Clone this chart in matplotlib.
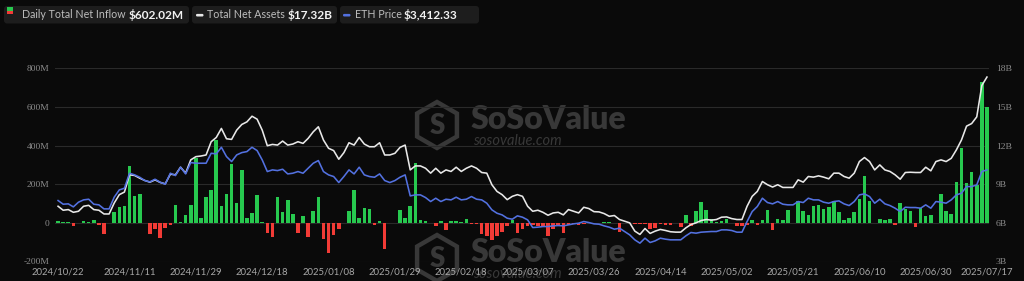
import numpy as np
import matplotlib
matplotlib.use("Agg")
import matplotlib.pyplot as plt
from matplotlib.patches import FancyBboxPatch, RegularPolygon, Rectangle
from matplotlib.transforms import IdentityTransform

# ---------------- data ----------------
inflow_m = [
    12, 2, 2, -17, 1, 8, 5, 13, -9, -60,
    0, 55, 80, 89, 295, 137, 149, -3, -57, -34,
    -77, -29, -9, 91, 2, 43, 91, 334, 26, 134,
    168, 428, 86, 151, 305, 103, 274, 26, 51, 146,
    2, -55, -72, 134, 55, 117, 48, -51, 38, -74,
    60, 132, -82, -154, -65, -34, 0, 63, 168, 26,
    77, 72, -10, 10, -134, 0, -3, 69, 27, 86,
    309, 17, 10, 0, -17, 8, -38, 10, 8, 7,
    20, -7, -7, -60, -69, -89, -69, -48, -17, 17,
    -55, -30, -15, -10, -15, -17, -68, -34, -15, -50,
    -10, -8, -10, -5, -3, -2, 0, 5, 4, -3,
    -48, -2, -3, -5, -8, -7, -34, -26, -7, -9,
    -9, 0, -22, 41, -17, 63, 106, 65, 20, 2,
    8, 22, 0, -15, -17, -12, 17, -12, 14, 65,
    -38, 22, 14, 65, 0, 115, 60, 41, 86, 93,
    72, 81, 111, 57, 14, 26, 55, 125, 243, 113,
    -2, 20, 14, 20, -9, 103, 72, 60, -22, 77,
    34, 43, -2, 149, 63, 48, 213, 386, 206, 261,
    195, 727, 602.02,
]

net_assets_b = [
    7.29, 6.98, 7.03, 6.82, 6.90, 7.29, 7.36, 7.03, 6.98, 6.69,
    6.69, 7.54, 8.19, 8.39, 9.73, 9.68, 9.47, 9.29, 9.16, 9.34,
    9.14, 9.03, 9.78, 9.73, 10.32, 9.86, 10.89, 11.14, 11.19, 11.27,
    12.30, 12.63, 13.33, 12.53, 12.48, 13.20, 13.64, 13.84, 14.28, 14.05,
    13.20, 11.99, 12.09, 12.04, 12.35, 12.04, 12.12, 12.30, 12.17, 12.56,
    13.07, 13.46, 12.43, 11.79, 11.61, 10.94, 11.45, 12.22, 12.04, 12.63,
    12.12, 11.91, 11.91, 12.22, 11.27, 11.27, 11.40, 11.86, 12.04, 10.11,
    10.42, 10.42, 10.24, 9.86, 10.24, 9.86, 10.11, 9.99, 10.32, 9.99,
    10.24, 10.42, 10.24, 9.91, 9.86, 8.96, 8.44, 8.19, 7.80, 8.06,
    8.19, 8.06, 7.29, 6.90, 6.98, 6.82, 6.59, 6.77, 6.82, 6.62,
    7.03, 6.90, 6.77, 7.21, 7.11, 6.87, 6.85, 6.72, 6.51, 6.57,
    6.26, 6.13, 6.00, 5.36, 5.10, 5.56, 5.18, 5.36, 5.49, 5.41,
    5.31, 5.28, 5.28, 5.61, 5.87, 6.00, 6.18, 6.26, 6.21, 6.26,
    6.44, 6.46, 6.33, 6.26, 6.26, 7.29, 8.06, 8.44, 9.21, 8.96,
    8.78, 8.96, 8.75, 8.75, 8.75, 9.34, 9.16, 9.60, 9.55, 9.65,
    9.55, 9.42, 9.86, 9.86, 9.60, 9.47, 9.86, 10.76, 11.07, 10.76,
    10.11, 10.50, 10.11, 9.99, 9.73, 9.39, 9.91, 9.93, 9.91, 9.91,
    10.32, 10.04, 10.76, 10.89, 10.76, 11.01, 11.66, 12.43, 13.51, 13.71,
    14.23, 16.67, 17.32,
]

eth_price = [
    2620, 2525, 2534, 2456, 2577, 2637, 2654, 2525, 2508, 2404,
    2404, 2706, 2895, 2938, 3326, 3283, 3222, 3136, 3102, 3171,
    3093, 3042, 3326, 3265, 3481, 3308, 3601, 3584, 3584, 3584,
    3842, 3825, 3997, 3756, 3627, 3799, 3859, 3885, 3997, 3911,
    3670, 3369, 3412, 3394, 3429, 3308, 3326, 3369, 3326, 3455,
    3584, 3653, 3369, 3283, 3240, 3085, 3240, 3412, 3308, 3481,
    3283, 3240, 3222, 3308, 3136, 3085, 3136, 3222, 3283, 2740,
    2766, 2766, 2697, 2594, 2680, 2594, 2654, 2637, 2706, 2637,
    2654, 2723, 2654, 2637, 2551, 2379, 2292, 2249, 2163, 2137,
    2224, 2189, 2120, 1922, 1931, 1948, 1948, 1965, 1974, 1965,
    1991, 2017, 2034, 2077, 2051, 2017, 2008, 1965, 1931, 1879,
    1905, 1819, 1733, 1604, 1518, 1647, 1535, 1578, 1647, 1621,
    1604, 1604, 1604, 1707, 1793, 1776, 1802, 1810, 1819, 1819,
    1862, 1862, 1845, 1802, 1802, 2077, 2335, 2465, 2680, 2568,
    2534, 2594, 2525, 2508, 2508, 2594, 2568, 2680, 2637, 2637,
    2577, 2551, 2594, 2611, 2534, 2490, 2594, 2766, 2792, 2723,
    2551, 2654, 2534, 2490, 2422, 2335, 2447, 2439, 2439, 2422,
    2508, 2422, 2594, 2577, 2551, 2637, 2766, 2809, 2981, 2981,
    3024, 3369, 3412.33,
]

tick_labels = ["2024/10/22", "2024/11/11", "2024/11/29", "2024/12/18", "2025/01/08",
               "2025/01/29", "2025/02/18", "2025/03/07", "2025/03/26", "2025/04/14",
               "2025/05/02", "2025/05/21", "2025/06/10", "2025/06/30", "2025/07/17"]
tick_index = [0, 14, 27, 40, 53, 66, 79, 92, 105, 118, 131, 144, 157, 170, 182]

left_ticks = [-200, 0, 200, 400, 600, 800]
left_labels = ["-200M", "0", "200M", "400M", "600M", "800M"]
right_ticks = [3, 6, 9, 12, 15, 18]
right_labels = ["3B", "6B", "9B", "12B", "15B", "18B"]

legend_names = ["Daily Total Net Inflow", "Total Net Assets", "ETH Price"]
legend_values = ["$602.02M", "$17.32B", "$3,412.33"]

# ---------------- style ----------------
BG = "#0a0a0a"
GREEN = "#27c94f"
RED = "#f23b36"
WHITE = "#e8e8e8"
BLUE = "#5371e0"
GRID = "#2a2a2a"
TICK = "#8c8c8c"
WM = "#383838"

W, H = 1024, 281
fig = plt.figure(figsize=(W / 100, H / 100), dpi=100, facecolor=BG)

def fy(y):
    return H - y

ax = fig.add_axes([55 / W, 19.5 / H, 934 / W, 193.2 / H])
ax.set_facecolor("none")
x = np.arange(len(inflow_m))
vals = np.array(inflow_m)
colors = [GREEN if v >= 0 else RED for v in vals]
ax.bar(x, vals, width=0.7, color=colors, zorder=2)
ax.set_xlim(-0.6, len(x) - 0.6)
ax.set_ylim(-200, 800)
ax.set_yticks(left_ticks)
ax.set_yticklabels(left_labels, family="Liberation Serif", fontsize=6.8, color=TICK)
ax.set_xticks(tick_index)
ax.set_xticklabels(tick_labels, family="Lato", fontsize=6.8, color="#a8a8a8")
ax.tick_params(axis="y", length=0, pad=4)
ax.tick_params(axis="x", length=0, pad=4.5)
ax.grid(axis="y", color=GRID, lw=0.8, zorder=0)
ax.set_axisbelow(True)
for s in ax.spines.values():
    s.set_visible(False)

ax2 = ax.twinx()
ax2.set_ylim(3, 18)
ax2.set_yticks(right_ticks)
ax2.set_yticklabels(right_labels, family="Liberation Serif", fontsize=6.8, color=TICK)
ax2.tick_params(axis="y", length=0, pad=5)
ax2.plot(x, net_assets_b, color=WHITE, lw=1.15, zorder=3, solid_joinstyle="round")
for s in ax2.spines.values():
    s.set_visible(False)

ax3 = ax.twinx()
ax3.set_ylim(1044, 6038)
ax3.plot(x, eth_price, color=BLUE, lw=1.15, zorder=4, solid_joinstyle="round")
ax3.axis("off")

# ---------------- watermarks ----------------
ident = IdentityTransform()
for dy in (0, 133):
    cx, cy = 437, 125 + dy
    fig.patches.append(RegularPolygon((cx, fy(cy)), numVertices=6, radius=23,
                                      orientation=0, facecolor="none", edgecolor=WM,
                                      lw=3.2, transform=ident, zorder=-2))
    fig.text(cx / W, 1 - (cy + 1) / H, "S", fontsize=20, fontweight="heavy",
             family="Lato", color=WM, ha="center", va="center", zorder=-2)
    fig.text(471 / W, 1 - (119 + dy) / H, "SoSoValue", fontsize=23, fontweight="heavy",
             family="Lato", color=WM, ha="left", va="center", zorder=-2)
    fig.text(473 / W, 1 - (141 + dy) / H, "sosovalue.com", fontsize=10.5, style="italic",
             family="Lato", color=WM, ha="left", va="center", zorder=-2)

# ---------------- legend chips ----------------
chips = [(4, 189), (192, 337), (340, 479)]
for (x0, x1) in chips:
    fig.patches.append(FancyBboxPatch((x0, fy(23.5)), x1 - x0, 17.5,
                                      boxstyle="round,pad=0,rounding_size=3",
                                      facecolor="#1d1d1d", edgecolor="none",
                                      transform=ident, zorder=5))
# icons
fig.patches.append(Rectangle((7, fy(10.5)), 6, 3.3, facecolor=GREEN, edgecolor="none",
                             transform=ident, zorder=6))
fig.patches.append(Rectangle((7, fy(13.8)), 6, 3.3, facecolor=RED, edgecolor="none",
                             transform=ident, zorder=6))
fig.patches.append(FancyBboxPatch((196, fy(16.5)), 7.5, 2.6,
                                  boxstyle="round,pad=0,rounding_size=1.2",
                                  facecolor=WHITE, edgecolor="none", transform=ident, zorder=6))
fig.patches.append(FancyBboxPatch((343, fy(16.5)), 7.5, 2.6,
                                  boxstyle="round,pad=0,rounding_size=1.2",
                                  facecolor=BLUE, edgecolor="none", transform=ident, zorder=6))

name_x = [22, 207, 355]
val_x = [129, 288, 404]
for nm, vx, v, nx in zip(legend_names, val_x, legend_values, name_x):
    fig.text(nx / W, 1 - 15 / H, nm, fontsize=7.7, family="Lato", color="#bdbdbd",
             ha="left", va="center", zorder=7)
    fig.text(vx / W, 1 - 15 / H, v, fontsize=8.6, family="Lato", fontweight="bold",
             color="#f2f2f2", ha="left", va="center", zorder=7)

fig.savefig("out.png", dpi=100, facecolor=BG)
